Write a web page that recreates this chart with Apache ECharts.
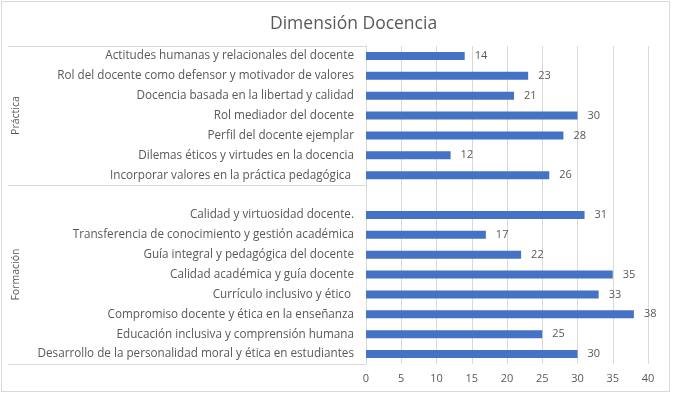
<!DOCTYPE html>
<html>
<head>
<meta charset="utf-8">
<script src="https://cdn.jsdelivr.net/npm/echarts@6/dist/echarts.min.js"></script>
<style>
html,body{margin:0;padding:0;background:#fff;}
#frame{position:absolute;left:1px;top:1px;width:669px;height:391px;border:1px solid #d9d9d9;box-sizing:border-box;}
#chart{position:absolute;left:0;top:0;width:673px;height:394px;}
</style>
</head>
<body>
<div id="frame"></div>
<div id="chart"></div>
<script>
// Categories, top to bottom (blank entry = gap between groups)
const categories = [
  'Actitudes humanas y relacionales del docente',
  'Rol del docente como defensor y motivador de valores',
  'Docencia basada en la libertad y calidad',
  'Rol mediador del docente',
  'Perfil del docente ejemplar',
  'Dilemas éticos y virtudes en la docencia',
  'Incorporar valores en la práctica pedagógica ',
  '',
  'Calidad y virtuosidad docente.',
  'Transferencia de conocimiento y gestión académica',
  'Guía integral y pedagógica del docente',
  'Calidad académica y guía docente',
  'Currículo inclusivo y ético ',
  'Compromiso docente y ética en la enseñanza',
  'Educación inclusiva y comprensión humana',
  'Desarrollo de la personalidad moral y ética en estudiantes'
];
const values = [14, 23, 21, 30, 28, 12, 26, null, 31, 17, 22, 35, 33, 38, 25, 30];
// Group labels and their extents (in category slots)
const groupNames = ['Práctica', 'Formación'];
const groupSizes = [7, 9];
const xTicks = [0, 5, 10, 15, 20, 25, 30, 35, 40];

const boundaries = [0];
const centers = [];
groupSizes.forEach(s => { const b = boundaries[boundaries.length - 1]; centers.push(b + s / 2); boundaries.push(b + s); });
const total = boundaries[boundaries.length - 1];

const txt = '#595959';
const font = 'Open Sans';
const chart = echarts.init(document.getElementById('chart'));
chart.setOption({
  animation: false,
  title: {
    text: 'Dimensión Docencia', left: 265, top: 10,
    textStyle: { color: txt, fontSize: 17.5, fontWeight: 'normal', fontFamily: font }
  },
  grid: { left: 366, right: 25, top: 46, bottom: 30, containLabel: false },
  xAxis: {
    type: 'value', min: xTicks[0], max: xTicks[xTicks.length - 1], interval: 5,
    axisLine: { show: false }, axisTick: { show: false },
    axisLabel: { color: txt, fontSize: 11, fontFamily: font, margin: 9 },
    splitLine: { lineStyle: { color: '#d9d9d9', width: 1 } }
  },
  yAxis: [{
    type: 'category', data: categories, inverse: true,
    axisLine: { lineStyle: { color: '#d9d9d9' } },
    axisTick: { show: false },
    axisLabel: { color: txt, fontSize: 11.7, fontFamily: font, margin: 12 }
  }, {
    type: 'value', min: 0, max: total, inverse: true, position: 'left',
    axisLine: { show: false },
    splitLine: { show: false },
    axisTick: { show: true, customValues: boundaries, length: 358, lineStyle: { color: '#d9d9d9' } },
    axisLabel: {
      customValues: centers, rotate: 90, margin: 344, color: txt, fontSize: 10.5, fontFamily: font,
      formatter: v => groupNames[centers.indexOf(v)] || ''
    }
  }],
  series: [{
    type: 'bar', data: values, yAxisIndex: 0, barWidth: 8,
    itemStyle: { color: '#4472C4' },
    label: { show: true, position: 'right', distance: 10, color: txt, fontSize: 11, fontFamily: font }
  }]
});
</script>
</body>
</html>
